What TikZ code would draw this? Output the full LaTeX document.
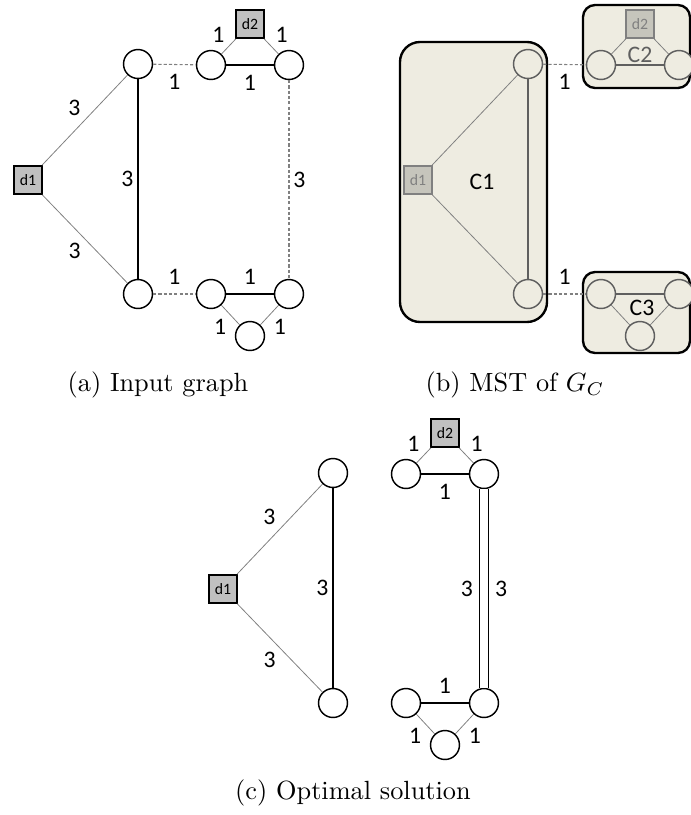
\documentclass[tikz,border=0pt]{standalone}
\usepackage{fontspec}
\newfontfamily\calibri{Carlito}
\usetikzlibrary{positioning}
\definecolor{depotgray}{HTML}{C0C0C0}
\definecolor{clusterbg}{HTML}{EEECE1}
\definecolor{fadefill}{HTML}{C6C5BC}
\definecolor{fadeline}{HTML}{5F5F5F}
\tikzset{
  every node/.style={inner sep=0pt},
  vtx/.style={draw=black, circle, line width=0.55pt, fill=white, minimum size=11pt},
  depot/.style={draw=black, rectangle, line width=0.7pt, fill=depotgray,
    minimum size=10.6pt, font=\calibri\fontsize{6}{7}\selectfont},
  fvtx/.style={vtx, draw=fadeline, fill=clusterbg},
  fdepot/.style={depot, draw=gray, fill=fadefill, text=gray},
  wt/.style={font=\calibri\fontsize{9}{10}\selectfont, inner sep=1.5pt},
  cname/.style={font=\calibri\fontsize{9}{10}\selectfont},
  thinedge/.style={draw=gray, line width=0.3pt},
  heavy/.style={draw=black, line width=0.45pt},
  fheavy/.style={draw=fadeline, line width=0.45pt},
  link/.style={draw=gray, line width=0.4pt, dash pattern=on 1.2pt off 0.8pt},
  cluster/.style={draw=black, line width=0.9pt, fill=clusterbg},
  caption/.style={font=\fontsize{10}{12}\selectfont},
}

\begin{document}
\begin{tikzpicture}[x=0.38pt, y=-0.38pt]
  \clip (0,0) rectangle (691,815);

  % (a) input graph
  \node[depot] (a-d1) at (28,180) {d1};
  \node[vtx] (a-v1) at (138,64) {};
  \node[vtx] (a-v2) at (138,294) {};
  \node[vtx] (a-v3) at (211,65) {};
  \node[vtx] (a-v4) at (289,65) {};
  \node[depot] (a-d2) at (250,24) {d2};
  \node[vtx] (a-v5) at (211,294) {};
  \node[vtx] (a-v6) at (289,294) {};
  \node[vtx] (a-v7) at (250,336) {};

  \draw[thinedge] (a-d1) -- node[wt, above left] {3} (a-v1);
  \draw[thinedge] (a-d1) -- node[wt, below left, pos=0.5] {3} (a-v2);
  \draw[heavy] (a-v1) -- node[wt, left] {3} (a-v2);
  \draw[link] (a-v1) -- node[wt, below=2pt] {1} (a-v3);
  \draw[heavy] (a-v3) -- node[wt, below=2pt] {1} (a-v4);
  \draw[thinedge] (a-d2) -- node[wt, above left] {1} (a-v3);
  \draw[thinedge] (a-d2) -- node[wt, above right] {1} (a-v4);
  \draw[link] (a-v4) -- node[wt, right] {3} (a-v6);
  \draw[link] (a-v2) -- node[wt, above=2pt] {1} (a-v5);
  \draw[heavy] (a-v5) -- node[wt, above=2pt] {1} (a-v6);
  \draw[thinedge] (a-v5) -- node[wt, below left] {1} (a-v7);
  \draw[thinedge] (a-v6) -- node[wt, below right] {1} (a-v7);

  \node[caption] (cap-a) at (158,385) {(a) Input graph};

  % (b) MST of the cluster graph
  \draw[cluster, rounded corners=7.6pt] (400,42) rectangle (547,322);
  \draw[cluster, rounded corners=4.6pt] (583,5) rectangle (690,88);
  \draw[cluster, rounded corners=4.6pt] (583,272) rectangle (690,353);

  \node[fdepot] (b-d1) at (418,180) {d1};
  \node[fvtx] (b-v1) at (528,64) {};
  \node[fvtx] (b-v2) at (528,294) {};
  \node[fvtx] (b-v3) at (601,65) {};
  \node[fvtx] (b-v4) at (679,65) {};
  \node[fdepot] (b-d2) at (640,24) {d2};
  \node[fvtx] (b-v5) at (601,294) {};
  \node[fvtx] (b-v6) at (679,294) {};
  \node[fvtx] (b-v7) at (640,336) {};

  \draw[thinedge] (b-d1) -- (b-v1);
  \draw[thinedge] (b-d1) -- (b-v2);
  \draw[fheavy] (b-v1) -- (b-v2);
  \draw[thinedge] (b-d2) -- (b-v3);
  \draw[thinedge] (b-d2) -- (b-v4);
  \draw[fheavy] (b-v3) -- (b-v4);
  \draw[fheavy] (b-v5) -- (b-v6);
  \draw[thinedge] (b-v5) -- (b-v7);
  \draw[thinedge] (b-v6) -- (b-v7);
  \draw[link] (b-v1) -- node[wt, below=2pt] {1} (b-v3);
  \draw[link] (b-v2) -- node[wt, above=2pt] {1} (b-v5);

  \node[cname] (c1) at (482,182) {C1};
  \node[cname, text=fadeline] (c2) at (640,55) {C2};
  \node[cname] (c3) at (642,308) {C3};

  \node[caption] (cap-b) at (515,385) {(b) MST of $G_C$};

  % (c) optimal solution
  \node[depot] (c-d1) at (223,589) {d1};
  \node[vtx] (c-v1) at (333,473) {};
  \node[vtx] (c-v2) at (333,703) {};
  \node[vtx] (c-v3) at (406,474) {};
  \node[vtx] (c-v4) at (484,474) {};
  \node[depot] (c-d2) at (445,433) {d2};
  \node[vtx] (c-v5) at (406,703) {};
  \node[vtx] (c-v6) at (484,703) {};
  \node[vtx] (c-v7) at (445,745) {};

  \draw[thinedge] (c-d1) -- node[wt, above left] {3} (c-v1);
  \draw[thinedge] (c-d1) -- node[wt, below left, pos=0.5] {3} (c-v2);
  \draw[heavy] (c-v1) -- node[wt, left] {3} (c-v2);
  \draw[heavy] (c-v3) -- node[wt, below=2pt] {1} (c-v4);
  \draw[thinedge] (c-d2) -- node[wt, above left] {1} (c-v3);
  \draw[thinedge] (c-d2) -- node[wt, above right] {1} (c-v4);
  \draw[heavy, double, double distance=2.9pt] (c-v4)
    -- node[wt, left=2.5pt] {3} node[wt, right=2.5pt] {3} (c-v6);
  \draw[heavy] (c-v5) -- node[wt, above=2pt] {1} (c-v6);
  \draw[thinedge] (c-v5) -- node[wt, below left] {1} (c-v7);
  \draw[thinedge] (c-v6) -- node[wt, below right] {1} (c-v7);

  \node[caption] (cap-c) at (353,793) {(c) Optimal solution};
\end{tikzpicture}
\end{document}
